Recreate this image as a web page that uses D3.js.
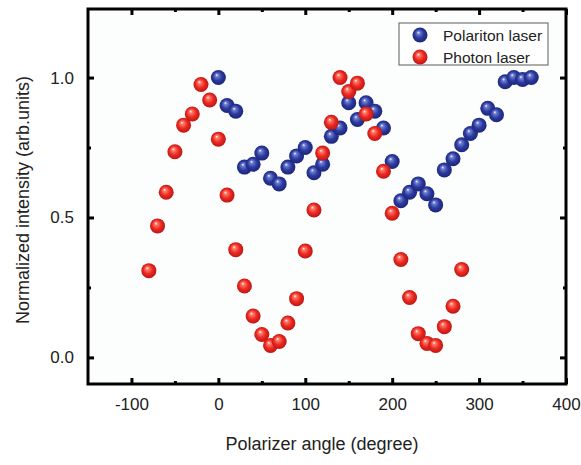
<!DOCTYPE html>
<html><head><meta charset="utf-8">
<script src="https://cdn.jsdelivr.net/npm/d3@7"></script>
<style>body{margin:0;background:#fff}svg{display:block}text{font-family:"Liberation Sans",Arial,sans-serif}</style>
</head><body><svg id="c" width="581" height="465"></svg>
<script>
// Data
const polaritonAngle = [0,10,20,30,40,50,60,70,80,90,100,110,120,130,140,150,160,170,180,190,200,210,220,230,240,250,260,270,280,290,300,310,320,330,340,350,360];
const polaritonValue = [1.0,0.90,0.88,0.68,0.69,0.73,0.64,0.62,0.68,0.72,0.75,0.66,0.69,0.79,0.82,0.91,0.85,0.91,0.88,0.82,0.70,0.56,0.59,0.62,0.585,0.545,0.67,0.71,0.76,0.80,0.83,0.89,0.867,0.985,1.0,0.993,1.0];
const photonAngle = [-80,-70,-60,-50,-40,-30,-20,-10,0,10,20,30,40,50,60,70,80,90,100,110,120,130,140,150,160,170,180,190,200,210,220,230,240,250,260,270,280];
const photonValue = [0.31,0.47,0.59,0.735,0.83,0.87,0.975,0.92,0.78,0.58,0.385,0.255,0.148,0.082,0.043,0.057,0.123,0.21,0.38,0.527,0.73,0.84,1.0,0.95,0.98,0.87,0.80,0.665,0.515,0.35,0.214,0.085,0.05,0.043,0.11,0.183,0.314];
const xTicks = [-100,0,100,200,300,400];
const xMinor = [-50,50,150,250,350];
const yTicks = [0.0,0.5,1.0];
const yMinor = [0.25,0.75];
const seriesNames = ["Polariton laser","Photon laser"];

const svg = d3.select("#c");
const L=88, R=566, T=9, B=384;
const x = d3.scaleLinear().domain([-150,400]).range([L,R]);
const y = d3.scaleLinear().domain([-0.095,1.245]).range([B,T]);

const defs = svg.append("defs");
function grad(id, light, mid, dark){
  const g = defs.append("radialGradient").attr("id",id).attr("cx","50%").attr("cy","50%").attr("r","55%").attr("fx","38%").attr("fy","32%");
  g.append("stop").attr("offset","0%").attr("stop-color","#ffffff");
  g.append("stop").attr("offset","18%").attr("stop-color",light);
  g.append("stop").attr("offset","55%").attr("stop-color",mid);
  g.append("stop").attr("offset","100%").attr("stop-color",dark);
}
grad("gb","#6f7fd0","#2c3aa0","#19216c");
grad("gr","#ff7a6a","#ec2a22","#b51210");

svg.append("rect").attr("x",L).attr("y",T).attr("width",R-L).attr("height",B-T).attr("fill","#fcfdfd");

// axes
const ax = svg.append("g");
const axB = d3.axisBottom(x).tickValues(xTicks).tickSize(-6).tickFormat(d=>String(d)).tickPadding(14);
const gB = ax.append("g").attr("transform",`translate(0,${B})`).call(axB);
gB.selectAll("text").attr("font-size",17).attr("fill","#222");
ax.append("g").attr("transform",`translate(0,${B})`).call(d3.axisBottom(x).tickValues(xMinor).tickSize(-3).tickFormat(""));
ax.append("g").attr("transform",`translate(0,${T})`).call(d3.axisTop(x).tickValues(xTicks).tickSize(-6).tickFormat(""));
ax.append("g").attr("transform",`translate(0,${T})`).call(d3.axisTop(x).tickValues(xMinor).tickSize(-3).tickFormat(""));
const gL = ax.append("g").attr("transform",`translate(${L},0)`).call(d3.axisLeft(y).tickValues(yTicks).tickSize(-6).tickFormat(d=>d.toFixed(1)).tickPadding(14));
gL.selectAll("text").attr("font-size",17).attr("fill","#222");
ax.append("g").attr("transform",`translate(${L},0)`).call(d3.axisLeft(y).tickValues(yMinor).tickSize(-3).tickFormat(""));
ax.append("g").attr("transform",`translate(${R},0)`).call(d3.axisRight(y).tickValues(yTicks).tickSize(-6).tickFormat(""));
ax.append("g").attr("transform",`translate(${R},0)`).call(d3.axisRight(y).tickValues(yMinor).tickSize(-3).tickFormat(""));
ax.selectAll(".domain").remove();
ax.selectAll(".tick line").attr("stroke","#000").attr("stroke-width",3);

svg.append("rect").attr("x",L).attr("y",T).attr("width",R-L).attr("height",B-T).attr("fill","none").attr("stroke","#000").attr("stroke-width",3);

// points
const r = 7.5;
const blue = polaritonAngle.map((a,i)=>({a,v:polaritonValue[i]}));
const red = photonAngle.map((a,i)=>({a,v:photonValue[i]}));
svg.append("g").selectAll("circle").data(blue).join("circle")
  .attr("cx",d=>x(d.a)).attr("cy",d=>y(d.v)).attr("r",r).attr("fill","url(#gb)");
svg.append("g").selectAll("circle").data(red).join("circle")
  .attr("cx",d=>x(d.a)).attr("cy",d=>y(d.v)).attr("r",r).attr("fill","url(#gr)");

// legend
const lg = svg.append("g");
lg.append("rect").attr("x",399).attr("y",23).attr("width",149).attr("height",42).attr("fill","#fff").attr("stroke","#777").attr("stroke-width",1.2);
[["url(#gb)",35],["url(#gr)",57]].forEach((s,i)=>{
  lg.append("circle").attr("cx",420).attr("cy",s[1]).attr("r",r).attr("fill",s[0]);
  lg.append("text").attr("x",443).attr("y",s[1]+5.5).attr("font-size",15.5).attr("fill","#222").text(seriesNames[i]);
});

// titles
svg.append("text").attr("x",322).attr("y",450).attr("text-anchor","middle").attr("font-size",18).attr("fill","#222").text("Polarizer angle (degree)");
svg.append("text").attr("transform","translate(29,200) rotate(-90)").attr("text-anchor","middle").attr("font-size",18).attr("fill","#222").text("Normalized intensity (arb.units)");
</script></body></html>
